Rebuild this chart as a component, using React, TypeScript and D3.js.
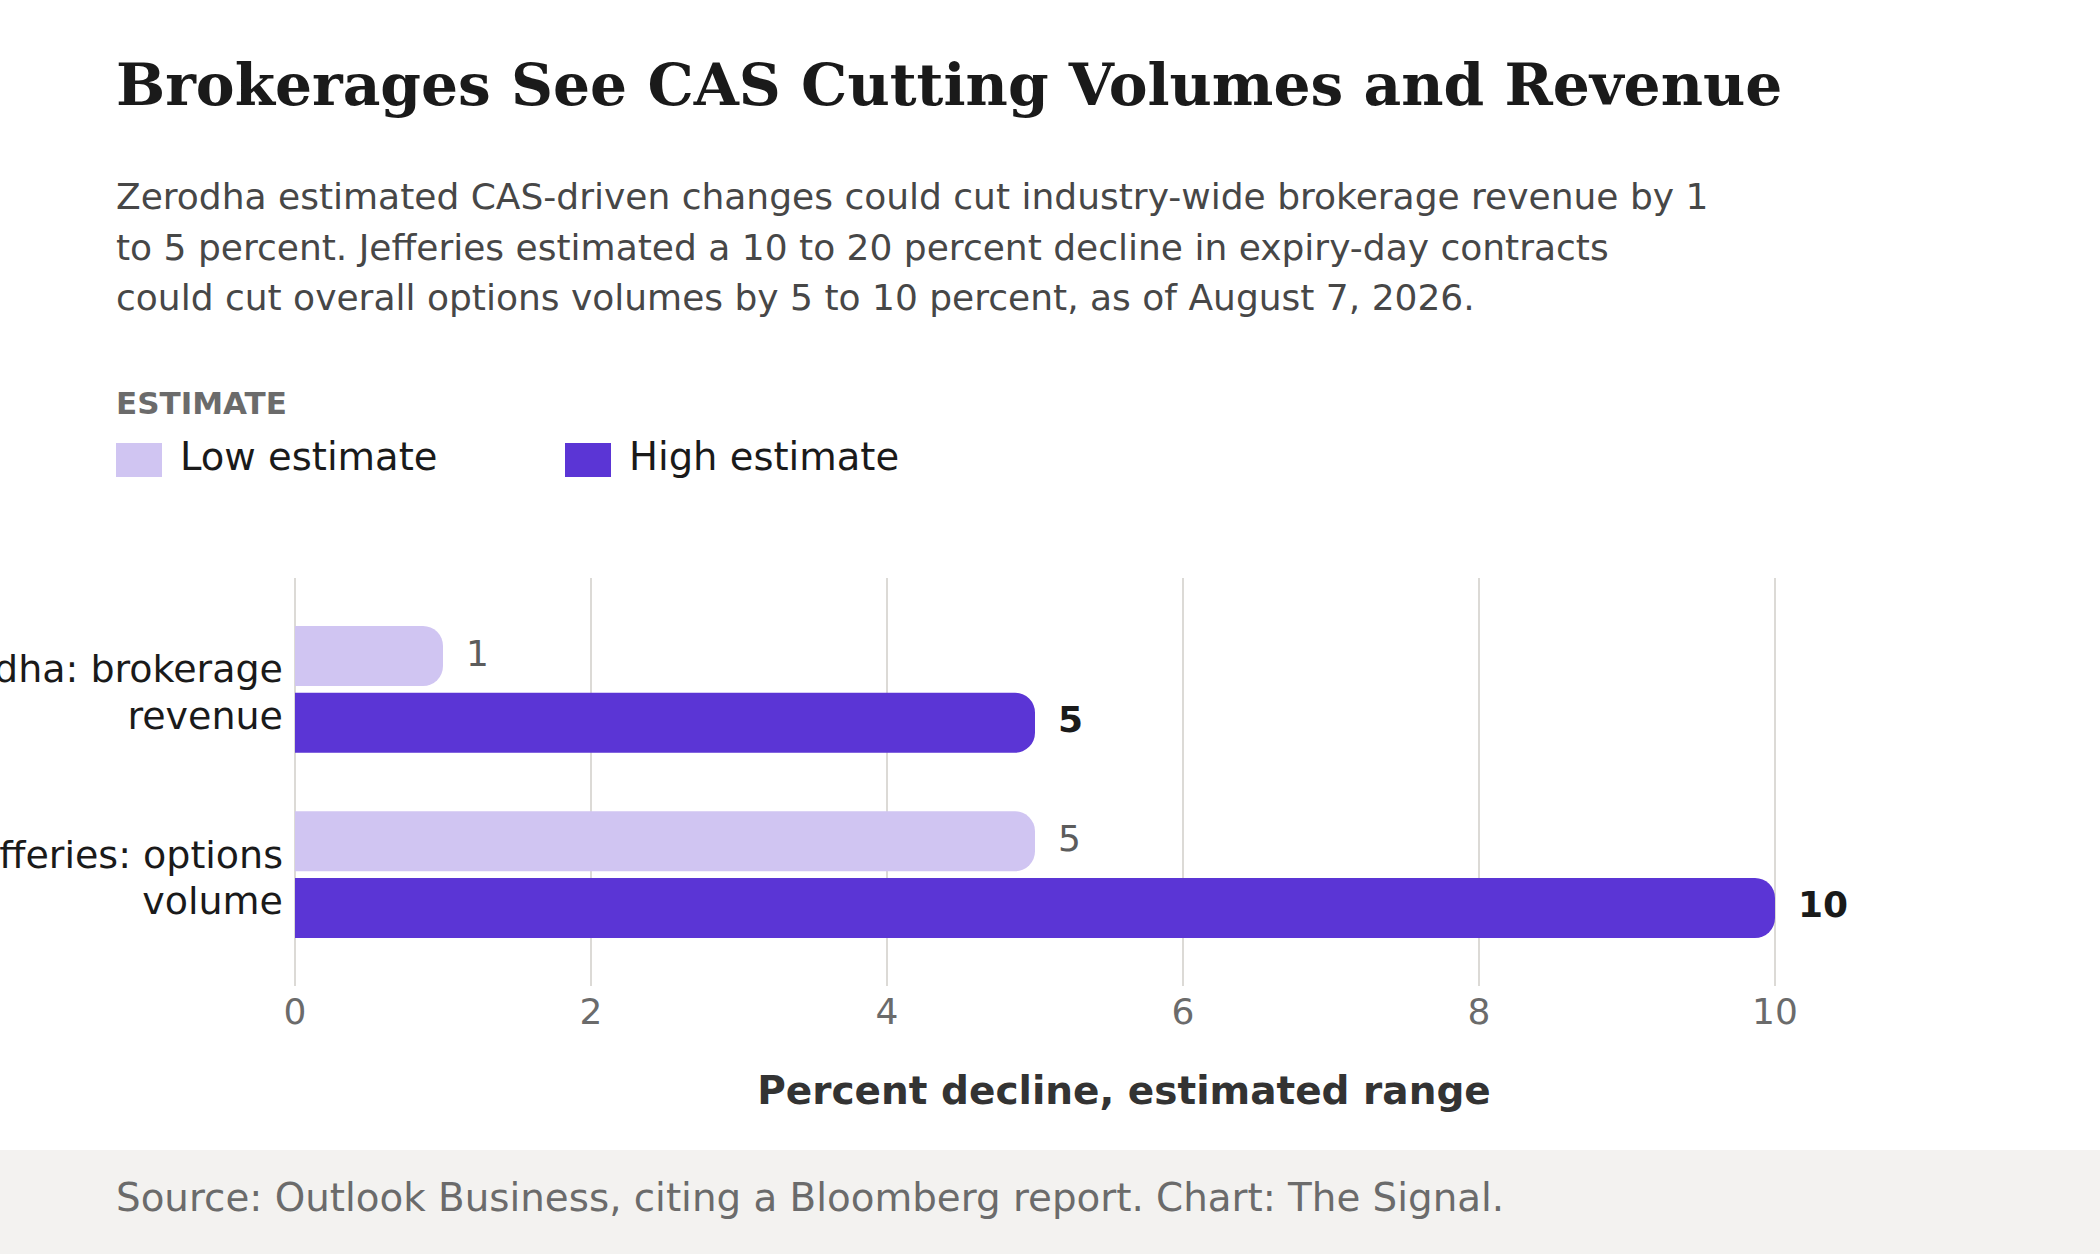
import React from "react";
import * as d3 from "d3";

const W = 2100;
const H = 1254;

const title = "Brokerages See CAS Cutting Volumes and Revenue";
const subtitleLines = [
  "Zerodha estimated CAS-driven changes could cut industry-wide brokerage revenue by 1",
  "to 5 percent. Jefferies estimated a 10 to 20 percent decline in expiry-day contracts",
  "could cut overall options volumes by 5 to 10 percent, as of August 7, 2026.",
];
const legendTitle = "ESTIMATE";
const categories = ["Zerodha: brokerage revenue", "Jefferies: options volume"];
const seriesNames = ["Low estimate", "High estimate"];
const lowValues = [1, 5];
const highValues = [5, 10];
const xTicks = [0, 2, 4, 6, 8, 10];
const xAxisTitle = "Percent decline, estimated range";
const source = "Source: Outlook Business, citing a Bloomberg report. Chart: The Signal.";

const COLORS = ["#d0c5f2", "#5b35d5"];
const SANS = "'DejaVu Sans', sans-serif";
const SERIF = "'DejaVu Serif', serif";

function rightRoundedBar(x0: number, x1: number, y: number, h: number, r: number) {
  const rr = Math.min(r, (x1 - x0) / 2, h / 2);
  const p = d3.path();
  p.moveTo(x0, y);
  p.lineTo(x1 - rr, y);
  p.arcTo(x1, y, x1, y + rr, rr);
  p.lineTo(x1, y + h - rr);
  p.arcTo(x1, y + h, x1 - rr, y + h, rr);
  p.lineTo(x0, y + h);
  p.closePath();
  return p.toString();
}

function wrapLabel(s: string): string[] {
  const i = s.lastIndexOf(" ");
  return i > 0 ? [s.slice(0, i), s.slice(i + 1)] : [s];
}

export default function App() {
  const x = d3.scaleLinear().domain([0, 10]).range([295, 1775]);
  const y0 = d3
    .scaleBand<string>()
    .domain(categories)
    .range([578, 986])
    .paddingInner(0.316)
    .paddingOuter(0.259);
  const y1 = d3
    .scaleBand<string>()
    .domain(seriesNames)
    .range([0, y0.bandwidth()])
    .paddingInner(0.1);
  const series = [lowValues, highValues];

  return (
    <div style={{ position: "absolute", left: 0, top: 0, width: W, height: H }}>
      <svg width={W} height={H} style={{ display: "block", background: "#ffffff" }}>
        <text x={116} y={105} fontFamily={SERIF} fontWeight="bold" fontSize={58.2} fill="#1a1a1a">
          {title}
        </text>
        {subtitleLines.map((l, i) => (
          <text key={i} x={116} y={209 + i * 50.5} fontFamily={SANS} fontSize={36} fill="#474747">
            {l}
          </text>
        ))}
        <text x={116} y={414} fontFamily={SANS} fontWeight="bold" fontSize={31} fill="#6b6b6b">
          {legendTitle}
        </text>
        {seriesNames.map((s, i) => {
          const lx = 116 + i * 449;
          return (
            <g key={s}>
              <rect x={lx} y={443} width={46} height={34} fill={COLORS[i]} />
              <text x={lx + 64} y={470} fontFamily={SANS} fontSize={38.5} fill="#1a1a1a">
                {s}
              </text>
            </g>
          );
        })}

        {xTicks.map((t) => (
          <g key={t}>
            <line x1={x(t)} x2={x(t)} y1={578} y2={986} stroke="#dcdad6" strokeWidth={2} />
            <text
              x={x(t)}
              y={1024}
              textAnchor="middle"
              fontFamily={SANS}
              fontSize={36}
              fill="#6b6b6b"
            >
              {t}
            </text>
          </g>
        ))}

        {categories.map((c, ci) => {
          const gy = y0(c) as number;
          const center = gy + y0.bandwidth() / 2;
          const lines = wrapLabel(c);
          return (
            <g key={c}>
              {lines.map((l, li) => (
                <text
                  key={li}
                  x={283}
                  y={center - 7 + li * 46.5}
                  textAnchor="end"
                  fontFamily={SANS}
                  fontSize={38}
                  fill="#1a1a1a"
                >
                  {l}
                </text>
              ))}
              {seriesNames.map((s, si) => {
                const v = series[si][ci];
                const by = gy + (y1(s) as number);
                const bh = y1.bandwidth();
                return (
                  <g key={s}>
                    <path d={rightRoundedBar(x(0), x(v), by, bh, 20)} fill={COLORS[si]} />
                    <text
                      x={x(v) + 23}
                      y={by + bh / 2 + 9.5}
                      fontFamily={SANS}
                      fontSize={36}
                      fontWeight={si === 1 ? "bold" : "normal"}
                      fill={si === 1 ? "#1a1a1a" : "#5c5c5c"}
                    >
                      {v}
                    </text>
                  </g>
                );
              })}
            </g>
          );
        })}

        <text
          x={1124}
          y={1104}
          textAnchor="middle"
          fontFamily={SANS}
          fontWeight="bold"
          fontSize={39}
          fill="#333333"
        >
          {xAxisTitle}
        </text>

        <rect x={0} y={1150} width={W} height={H - 1150} fill="#f3f2f0" />
        <text x={116} y={1211} fontFamily={SANS} fontSize={38.8} fill="#6b6b6b">
          {source}
        </text>
      </svg>
    </div>
  );
}
